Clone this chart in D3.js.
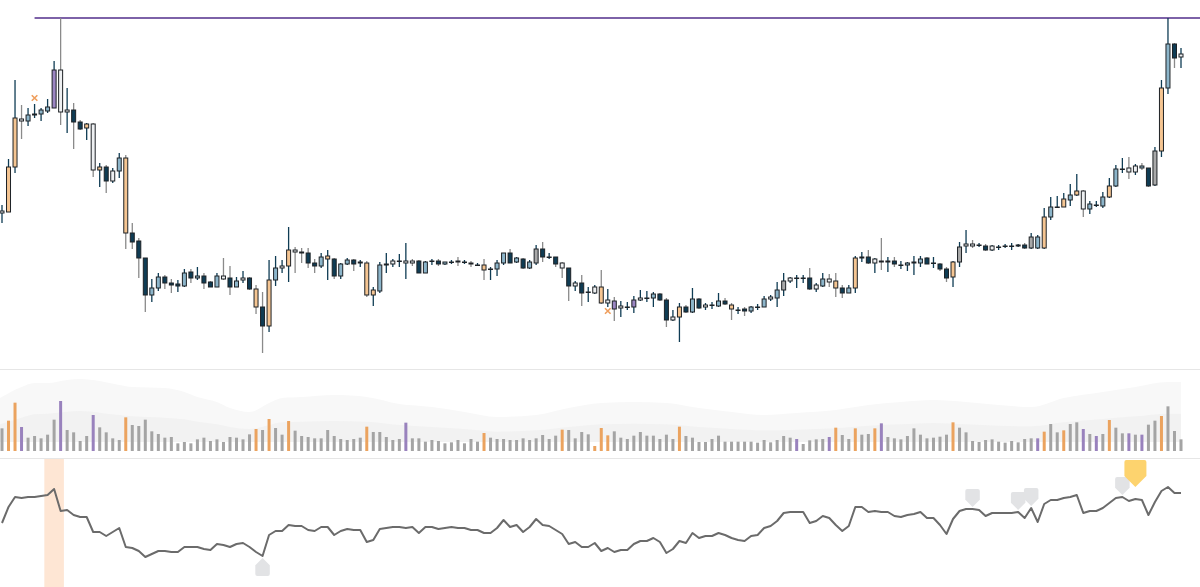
<!DOCTYPE html>
<html>
<head>
<meta charset="utf-8">
<script src="https://cdn.jsdelivr.net/npm/d3@7"></script>
<style>
  html, body { margin: 0; padding: 0; background: #fff; }
  svg { display: block; }
</style>
</head>
<body>
<div id="chart"></div>
<script>
// price data, one value per session (182 sessions)
var open = [
  187,188,233,281,279,285,286,289,292,330, 288,290,278,272,276,230,233,219,229,242,
  167,159,142,105,112,123,117,114,114,128, 122,124,118,113,124,122,113,120,122,111,
  93,74,120,132,134,150,148,147,137,134, 141,141,124,136,140,137,137,105,109,135,
  136,139,137,139,139,127,139,139,136,138, 139,138,137,135,135,131,131,137,147,138,
  141,132,137,151,143,143,137,132,114,117, 108,107,113,97,99,92,93,93,100,102,
  102,106,100,80,83,93,88,101,93,95, 94,99,95,90,91,89,93,93,101,102,
  110,119,122,122,122,111,114,121,119,112, 107,112,142,143,137,139,138,139,135,135,
  137,137,142,137,136,131,123,138,154,156, 155,154,150,153,154,154,154,155,152,152,
  152,183,193,193,200,205,209,191,195,194, 203,214,231,232,228,234,232,215,249,312,
  356,343
]
var high = [
  195,241,320,295,292,296,292,301,339,382, 312,297,280,277,277,237,235,232,247,245,
  177,162,142,121,127,125,121,120,131,131, 133,127,119,127,142,134,123,129,123,115,
  108,140,144,140,173,153,152,152,141,147, 150,142,137,142,141,140,139,113,138,147,
  141,146,157,141,140,139,141,141,138,140, 143,140,139,137,141,133,140,147,151,143,
  142,140,155,158,147,143,138,132,119,125, 113,115,130,111,103,99,98,104,110,109,
  108,107,102,90,97,95,112,102,97,98, 107,102,97,93,93,94,96,104,105,118,
  127,123,125,125,132,117,127,126,127,115, 115,144,148,150,142,162,143,143,139,138,
  144,144,143,143,137,133,139,158,170,160, 157,156,155,155,156,157,156,157,167,165,
  192,203,204,207,216,226,210,199,199,208, 222,235,242,243,236,237,232,253,320,382,
  357,352
]
var low = [
  177,188,227,261,274,282,279,287,292,275, 267,251,270,260,223,213,207,217,222,151,
  151,122,88,98,109,111,107,108,113,117, 120,111,113,113,120,105,113,117,110,86,
  47,68,114,127,118,127,137,132,127,132, 120,121,121,135,129,133,103,94,107,127,
  133,133,121,134,127,127,135,134,135,136, 134,136,133,134,120,120,124,135,137,137,
  131,131,135,138,141,133,122,99,109,94, 98,106,96,93,79,83,90,87,99,98,
  93,99,73,79,58,87,87,91,90,91, 93,95,80,86,84,87,90,93,99,93,
  104,117,112,117,110,108,113,113,103,102, 107,107,138,136,127,130,128,133,131,129,
  125,133,136,132,129,118,113,133,147,152, 153,149,149,150,152,150,153,151,151,151,
  151,180,192,193,194,204,183,186,193,192, 202,213,227,221,225,230,213,214,243,306,
  332,332
]
var close = [
  189,233,282,279,285,286,290,293,330,288, 290,278,271,276,230,233,219,229,242,167,
  158,142,105,112,123,117,115,116,127,122, 124,117,113,124,121,113,119,122,111,93,
  74,120,132,134,150,148,147,137,134,143, 144,124,136,140,136,138,105,110,135,136,
  139,139,139,137,127,138,139,136,138,138, 138,138,136,135,130,131,137,147,137,142,
  132,138,151,143,143,136,132,114,117,107, 108,113,97,100,91,94,93,100,102,102,
  106,100,80,83,93,88,101,92,95,95, 99,96,91,90,89,93,93,101,103,110,
  119,122,122,122,111,115,121,118,112,107, 112,142,143,137,141,138,139,136,135,137,
  138,141,136,137,131,122,138,153,156,154, 155,150,154,153,154,154,155,152,163,163,
  183,193,193,201,205,209,191,196,195,203, 214,231,231,228,234,232,214,249,312,356,
  342,346
]
// body category per session: d navy, b blue, p peach, w white, g grey, v violet
var bodyCat = "wppwbdbbvw" + "wddpwpdwbp" + "dddbbdddbd" + "bddbwdbwdp" + "dpbwpwdddb" +
              "pdbbddppbd" + "wdwwdbddbd" + "ddddpdbbdb" + "dbgdddwdwd" + "dwpwvwdvwd" +
              "bddwpdbdwd" + "bdpddbdbwb" + "gwdddwbwpd" + "bpwdwwbddb" + "wbddddpgww" +
              "ddwdddwdgb" + "pbdpbpwbdb" + "pbdwwbdgpb" + "dw"

// volume per session and its category: g grey, o orange, v violet
var volume = [
  68,91,145,72,40,45,38,49,94,150, 63,56,30,45,108,71,56,38,33,101,
  78,75,94,59,51,40,42,23,27,23, 35,40,30,35,27,42,40,35,50,66,
  63,96,69,49,90,61,45,42,38,38, 63,45,36,33,36,40,73,57,57,42,
  33,36,85,38,38,28,33,30,23,26, 33,23,36,28,54,40,36,36,33,33,
  38,33,38,48,36,46,64,63,38,57, 50,15,69,47,59,40,36,46,57,46,
  46,36,49,36,73,45,40,27,27,36, 46,28,28,28,28,28,25,33,26,33,
  45,40,36,21,32,35,36,42,70,48, 36,68,49,51,68,83,42,38,35,45,
  68,49,38,40,43,49,86,70,56,30, 27,33,35,28,25,30,26,36,38,38,
  58,81,56,62,81,86,66,51,45,51, 93,70,53,53,49,49,79,91,105,134,
  60,35
]
var volCat = "goovgggggv" + "ggggvggggo" + "gggggggggg" + "gggggggggo" + "goggoggggg" +
             "ggggggoggg" + "ggvggggggg" + "ggggoggggg" + "ggggggoggg" + "gooogggggg" +
             "ggggoggggg" + "gggggggggg" + "ggvggggvog" + "goggovgggg" + "ggggggoggg" +
             "gggggggggv" + "oggoggvgvg" + "oggvgvggog" + "gg"

// background volume band, sampled at session index
var bandIdx   = [0,3,5,7,10,12,15,18,20,25,28,30,33,35,38,41,43,46,51,56,61,66,71,76,82,87,92,97,102,107,112,117,122,128,133,138,143,148,153,158,163,169,174,179,181]
var bandOuter = [159,192,204,204,213,216,210,198,192,189,177,162,147,129,117,144,159,162,168,162,141,132,117,102,108,129,144,147,144,129,117,108,114,123,138,147,153,147,138,132,159,177,192,207,207]
var bandInner = [80,100,110,112,118,120,115,108,104,100,95,88,80,72,66,78,86,88,90,88,78,72,66,58,62,72,80,82,80,72,66,62,64,68,76,80,84,80,76,74,86,96,104,112,112]
var bandFloor = 27

// lower panel indicator
var indicator = [
  77,93,103,102,103,103,104,105,111,89, 90,85,83,83,68,68,64,68,72,53,
  52,49,43,46,49,49,48,48,53,53, 53,51,50,56,55,53,56,57,53,48,
  44,65,69,69,75,74,74,70,69,73, 73,65,69,71,70,70,58,60,71,72,
  73,73,72,73,67,73,73,71,72,73, 72,72,70,70,67,67,72,80,73,75,
  68,73,81,75,74,70,66,56,58,53, 53,57,49,52,48,50,50,56,59,59,
  62,58,47,51,59,57,67,62,64,64, 67,65,62,60,59,64,65,72,74,79,
  87,88,88,88,77,79,84,82,75,69, 74,93,93,88,89,88,88,84,83,85,
  86,88,82,82,75,66,81,89,91,91, 90,84,87,87,87,87,88,82,92,78,
  96,100,100,102,103,105,87,89,89,92, 97,102,103,99,101,100,85,98,109,113,
  107,107
]

// event markers
var crossIdx = [5, 93]
var crossSide = ["above", "below"]
var pinIdx = [40, 149, 156, 158, 172]
var pinSide = ["below", "above", "above", "above", "above"]
var flagIdx = 174
var shadeIdx = [7, 9]

var bodyColor = { d: "#0f3c54", b: "#8cb5ca", p: "#f5c592", w: "#eef0f2", g: "#a9a9a9", v: "#9c86c3" }
var volColor = { g: "#a4a4a4", o: "#eba35f", v: "#9982bd" }

var width = 1200, height = 587

var svg = d3.select("#chart").append("svg")
    .attr("width", width)
    .attr("height", height)

var n = open.length
var x = d3.scaleLinear().domain([0, n - 1]).range([2, 1181])
var step = x(1) - x(0)
var yPrice = d3.scaleLinear().domain([47, 382]).range([353, 18])
var yVol = d3.scaleLinear().domain([0, 150]).range([451, 401])
var yInd = d3.scaleLinear().domain([13, 142]).range([587, 458])

var idx = d3.range(n)

// panel separators
svg.selectAll("line.sep")
    .data([369, 458])
    .enter().append("line")
    .attr("class", "sep")
    .attr("x1", 0).attr("x2", width)
    .attr("y1", function (d) { return d + 0.5 })
    .attr("y2", function (d) { return d + 0.5 })
    .style("stroke", "#e6e6e6")

// high water line
var maxHigh = d3.max(high)
svg.append("line")
    .attr("x1", x(5)).attr("x2", width)
    .attr("y1", yPrice(maxHigh)).attr("y2", yPrice(maxHigh))
    .style("stroke", "#7d62a8")
    .style("stroke-width", 2)

// candles
var candle = svg.append("g").selectAll("g")
    .data(idx)
    .enter().append("g")

candle.append("line")
    .attr("x1", function (i) { return x(i) }).attr("x2", function (i) { return x(i) })
    .attr("y1", function (i) { return yPrice(high[i]) })
    .attr("y2", function (i) { return yPrice(low[i]) })
    .style("stroke", function (i) { return close[i] >= open[i] ? "#0f3c54" : "#8a8a8a" })
    .style("stroke-width", 1.3)

candle.append("rect")
    .attr("x", function (i) { return x(i) - 2 })
    .attr("width", 4)
    .attr("y", function (i) { return yPrice(Math.max(open[i], close[i])) })
    .attr("height", function (i) { return Math.max(0.5, Math.abs(yPrice(open[i]) - yPrice(close[i]))) })
    .style("fill", function (i) { return bodyColor[bodyCat[i]] })
    .style("stroke", "#1e2226")
    .style("stroke-width", 1)

// cross markers
svg.selectAll("path.cross")
    .data(crossIdx)
    .enter().append("path")
    .attr("class", "cross")
    .attr("d", d3.symbol(d3.symbolTimes, 22))
    .attr("transform", function (i, k) {
        var yy = crossSide[k] === "above" ? yPrice(high[i]) - 6 : yPrice(low[i]) + 4
        return "translate(" + x(i) + "," + yy + ")"
    })
    .style("fill", "none")
    .style("stroke", "#ef9e5c")
    .style("stroke-width", 1.6)

// volume background band
var band = bandIdx.map(function (d, k) { return { i: d, outer: bandOuter[k], inner: bandInner[k] } })
svg.append("path")
    .datum(band)
    .attr("d", d3.area()
        .x(function (d) { return d.i === 0 ? 0 : x(d.i) })
        .y0(yVol(bandFloor))
        .y1(function (d) { return yVol(d.outer) })
        .curve(d3.curveMonotoneX))
    .style("fill", "#f8f8f8")
svg.append("path")
    .datum(band)
    .attr("d", d3.area()
        .x(function (d) { return d.i === 0 ? 0 : x(d.i) })
        .y0(yVol(bandFloor))
        .y1(function (d) { return yVol(d.inner) })
        .curve(d3.curveMonotoneX))
    .style("fill", "#f2f2f2")

// volume bars
svg.append("g").selectAll("rect")
    .data(idx)
    .enter().append("rect")
    .attr("x", function (i) { return x(i) - 1.5 })
    .attr("width", 3)
    .attr("y", function (i) { return yVol(volume[i]) })
    .attr("height", function (i) { return yVol(0) - yVol(volume[i]) })
    .style("fill", function (i) { return volColor[volCat[i]] })

// shaded session range in the indicator panel
svg.append("rect")
    .attr("x", x(shadeIdx[0]) - step / 2)
    .attr("width", x(shadeIdx[1]) - x(shadeIdx[0]) + step)
    .attr("y", 459)
    .attr("height", height - 459)
    .style("fill", "#fee6d4")

// indicator line
svg.append("path")
    .datum(idx)
    .attr("d", d3.line()
        .x(function (i) { return x(i) })
        .y(function (i) { return yInd(indicator[i]) }))
    .style("fill", "none")
    .style("stroke", "#6b6b6b")
    .style("stroke-width", 2)
    .style("stroke-linejoin", "round")

// pin shaped markers
function pin(cx, tip, w, h, dir) {
    var r = 2, hw = w / 2, s = dir === "down" ? -1 : 1
    var base = tip + s * h, shoulder = tip + s * hw
    return "M" + (cx - hw + r) + "," + base +
        "L" + (cx + hw - r) + "," + base +
        "Q" + (cx + hw) + "," + base + "," + (cx + hw) + "," + (base - s * r) +
        "L" + (cx + hw) + "," + shoulder +
        "L" + cx + "," + tip +
        "L" + (cx - hw) + "," + shoulder +
        "L" + (cx - hw) + "," + (base - s * r) +
        "Q" + (cx - hw) + "," + base + "," + (cx - hw + r) + "," + base + "Z"
}

svg.selectAll("path.pin")
    .data(pinIdx)
    .enter().append("path")
    .attr("class", "pin")
    .attr("d", function (i, k) {
        var yy = yInd(indicator[i])
        return pinSide[k] === "above" ? pin(x(i), yy - 2, 14.5, 18, "down") : pin(x(i), yy + 2, 14.5, 18, "up")
    })
    .style("fill", "#e2e3e5")

svg.append("path")
    .attr("d", pin(x(flagIdx), 487, 22, 27, "down"))
    .style("fill", "#fdd36e")
</script>
</body>
</html>
